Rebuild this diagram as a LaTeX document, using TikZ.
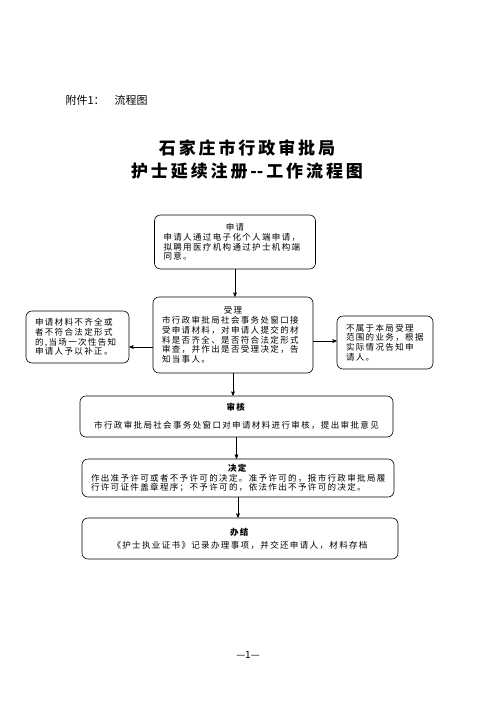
\documentclass[tikz,border=0pt]{standalone}
\usepackage{fontspec}
\setmainfont{Noto Sans CJK SC}
\newfontfamily\boxfont{Noto Sans CJK SC}[LetterSpace=16]
\newfontfamily\titlefont{Noto Sans CJK SC}[LetterSpace=17]
\newcommand\boxtext{\boxfont\fontsize{8.5}{9.8}\selectfont}
\usetikzlibrary{arrows}

\begin{document}
\begin{tikzpicture}[x=1pt,y=-1pt,
    stepbox/.style={draw,rounded corners=6pt,semithick,inner xsep=9pt,inner ysep=0pt,font=\boxtext},
    link/.style={semithick,->,>=stealth'}]
\useasboundingbox (0,0) rectangle (496,702);

\node[anchor=west,font=\fontsize{11}{13}\selectfont] (annex) at (62,100) {附件1：\hspace{10pt}流程图};
\node[align=center,font=\titlefont\bfseries\fontsize{17}{23}\selectfont] (title) at (247,160)
    {石家庄市行政审批局\\护士延续注册-\kern0pt-工作流程图};

\node[stepbox,align=left,text width=143pt,minimum height=54pt] (apply) at (235,242)
    {{\centering 申请\par}申请人通过电子化个人端申请，\\拟聘用医疗机构通过护士机构端\\同意。};
\node[stepbox,align=left,text width=142pt,minimum height=76pt] (accept) at (233,335)
    {{\centering 受理\par}市行政审批局社会事务处窗口接\\受申请材料，对申请人提交的材\\料是否齐全、是否符合法定形式\\审查，并作出是否受理决定，告\\知当事人。};
\node[stepbox,align=left,text width=85pt,minimum height=52pt] (reject) at (77.5,337)
    {申请材料不齐全或\\者不符合法定形式\\的,当场一次性告知\\申请人予以补正。};
\node[stepbox,align=left,text width=78pt,minimum height=53pt] (outside) at (385,342.5)
    {不属于本局受理\\范围的业务，根据\\实际情况告知申\\请人。};
\node[stepbox,align=center,text width=295pt,minimum height=41pt] (review) at (236.5,416.5)
    {\textbf{审核}\\[8pt]市行政审批局社会事务处窗口对申请材料进行审核，提出审批意见};
\node[stepbox,align=left,text width=294pt,minimum height=38pt] (decide) at (238,478)
    {{\centering\textbf{决定}\par}作出准予许可或者不予许可的决定。准予许可的，报市行政审批局履\\行许可证件盖章程序；不予许可的，依法作出不予许可的决定。};
\node[stepbox,align=center,text width=298pt,minimum height=41pt] (finish) at (240,538.5)
    {\textbf{办结}\\[3pt]《护士执业证书》记录办理事项，并交还申请人，材料存档};

\draw[link] (apply.south) -- (apply.south |- accept.north);
\draw[link] ([yshift=-12pt]accept.west) -- ([yshift=-12pt]accept.west -| reject.east);
\draw[link] ([yshift=-6pt]accept.east) -- ([yshift=-6pt]accept.east -| outside.west);
\draw[link] (accept.south) -- (accept.south |- review.north);
\draw[link] (review.south) -- (review.south |- decide.north);
\draw[link] (decide.south) -- (decide.south |- finish.north);

\node[font=\fontsize{10}{12}\selectfont] (pageno) at (248,655) {—1—};
\end{tikzpicture}
\end{document}
